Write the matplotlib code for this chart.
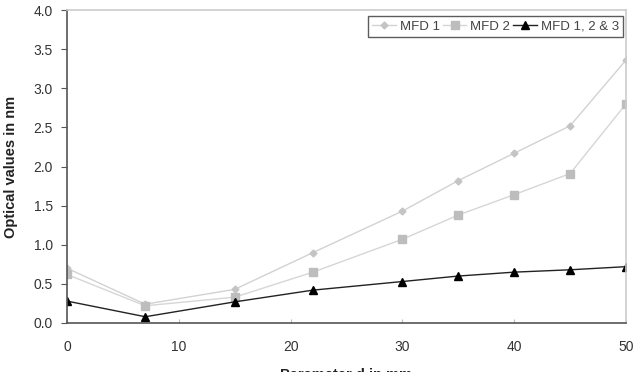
import matplotlib.pyplot as plt

plt.rcParams['font.family'] = ['Liberation Sans', 'DejaVu Sans']

# values
d = [0, 7, 15, 22, 30, 35, 40, 45, 50]
mfd1 = [0.70, 0.24, 0.43, 0.90, 1.43, 1.82, 2.17, 2.52, 3.36]
mfd2 = [0.62, 0.22, 0.33, 0.65, 1.07, 1.38, 1.64, 1.91, 2.80]
mfd123 = [0.28, 0.08, 0.27, 0.42, 0.53, 0.60, 0.65, 0.68, 0.72]

fig = plt.figure(figsize=(6.43, 3.72), dpi=100)
ax = fig.add_axes([67 / 643, 1 - 323 / 372, (626 - 67) / 643, (323 - 10) / 372])

ax.plot(d, mfd1, color='#d2d2d2', lw=1, marker='D', ms=3.5, mfc='#c4c4c4', mec='#c4c4c4', label='MFD 1')
ax.plot(d, mfd2, color='#d6d6d6', lw=1, marker='s', ms=6, mfc='#bdbdbd', mec='#bdbdbd', label='MFD 2')
ax.plot(d, mfd123, color='#222222', lw=1, marker='^', ms=6, mfc='black', mec='black', label='MFD 1, 2 & 3')

ax.set_xlim(0, 50)
ax.set_ylim(0, 4.0)
ax.set_xticks(range(0, 51, 10))
ax.set_yticks([i * 0.5 for i in range(9)])
ax.set_yticklabels([f'{i * 0.5:.1f}' for i in range(9)])

for s in ['left', 'bottom']:
    ax.spines[s].set_color('#555555')
    ax.spines[s].set_linewidth(1.2)
for s in ['top', 'right']:
    ax.spines[s].set_color('#cccccc')
    ax.spines[s].set_linewidth(1.2)

ax.tick_params(axis='x', direction='in', length=3, color='#bbbbbb', labelsize=10, pad=12, labelcolor='#333333')
ax.tick_params(axis='y', direction='out', length=4, color='#555555', labelsize=10, pad=6, labelcolor='#333333')

ax.set_ylabel('Optical values in nm', fontsize=10.5, fontweight='bold', color='#222222')
ax.yaxis.set_label_coords(-0.088, 0.5)
ax.set_xlabel('Parameter d in mm', fontsize=10.5, fontweight='bold', color='#222222')
ax.xaxis.set_label_coords(0.5, -0.143)

leg = ax.legend(ncol=3, loc='upper right', bbox_to_anchor=(1.0, 0.99), frameon=True, fancybox=False,
                fontsize=9.5, handlelength=1.8, handletextpad=0.3, columnspacing=0.2,
                borderpad=0.35, borderaxespad=0.2)
leg.get_frame().set_edgecolor('#333333')
leg.get_frame().set_linewidth(1)
for t in leg.get_texts():
    t.set_color('#444444')

fig.savefig('out.png', dpi=100)
